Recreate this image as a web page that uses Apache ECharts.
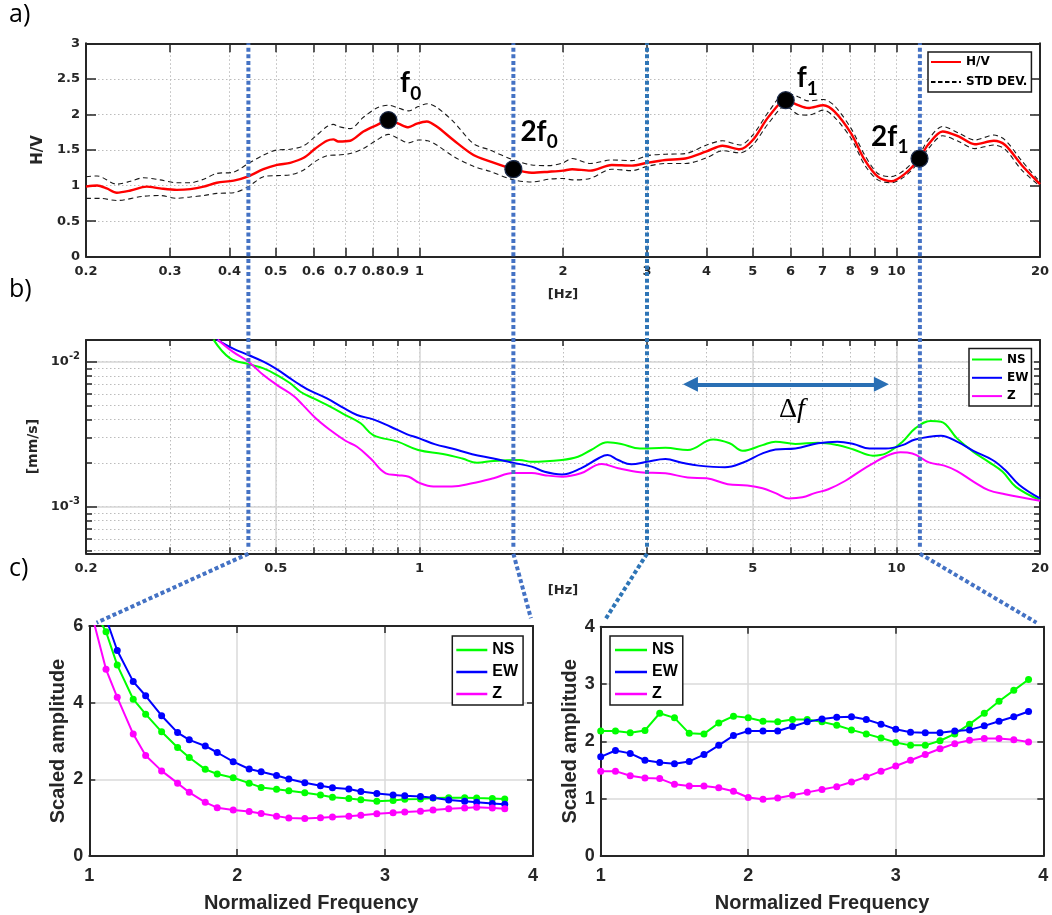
<!DOCTYPE html>
<html>
<head>
<meta charset="utf-8">
<script src="https://cdn.jsdelivr.net/npm/echarts/dist/echarts.min.js"></script>
<style>
html,body{margin:0;padding:0;background:#ffffff;}
#chart{width:1052px;height:915px;}
</style>
</head>
<body>
<div id="chart"></div>
<script>
// ---------------- DATA ----------------
// a) H/V curve and its standard deviation band (frequency in Hz)
const hvFreq = [0.2,0.211,0.221,0.232,0.248,0.268,0.286,0.31,0.331,0.353,0.376,0.408,0.438,0.471,0.503,0.536,0.572,0.605,0.64,0.66,0.676,0.716,0.763,0.814,0.861,0.904,0.948,0.988,1.036,1.087,1.178,1.298,1.405,1.574,1.72,1.87,2.0,2.09,2.28,2.53,2.79,3.0,3.28,3.61,4.0,4.32,4.7,5.0,5.4,5.86,6.22,6.53,7.03,7.42,8.04,8.58,9.14,9.75,10.4,11.18,11.64,12.5,13.5,14.6,16.0,16.9,18.3,20];
const hvVal = [0.985,1.0,0.96,0.9,0.93,0.985,0.96,0.94,0.95,0.985,1.04,1.07,1.13,1.23,1.29,1.32,1.39,1.52,1.63,1.65,1.62,1.63,1.76,1.85,1.92,1.87,1.82,1.87,1.9,1.83,1.64,1.43,1.34,1.23,1.18,1.195,1.21,1.23,1.21,1.29,1.28,1.32,1.36,1.38,1.48,1.56,1.51,1.64,1.97,2.2,2.13,2.09,2.13,2.04,1.73,1.36,1.125,1.06,1.16,1.38,1.57,1.76,1.69,1.58,1.63,1.57,1.29,1.02];
const stdUpFreq = [0.2,0.211,0.232,0.248,0.264,0.286,0.31,0.331,0.353,0.376,0.408,0.438,0.471,0.503,0.536,0.572,0.605,0.64,0.66,0.676,0.716,0.763,0.814,0.861,0.904,0.948,0.995,1.04,1.087,1.178,1.298,1.405,1.574,1.72,1.87,2.0,2.09,2.28,2.53,2.79,3.0,3.28,3.61,4.0,4.32,4.7,5.0,5.4,5.86,6.22,6.53,7.03,7.42,8.04,8.58,9.14,9.75,10.4,11.18,11.64,12.5,13.5,14.6,16.0,16.9,18.3,20];
const stdUpVal = [1.125,1.135,1.02,1.06,1.11,1.08,1.04,1.04,1.09,1.17,1.19,1.31,1.43,1.5,1.51,1.56,1.69,1.83,1.86,1.83,1.8,1.96,2.09,2.13,2.09,2.05,2.11,2.15,2.1,1.9,1.59,1.5,1.36,1.29,1.28,1.32,1.38,1.31,1.36,1.35,1.42,1.44,1.45,1.57,1.63,1.57,1.71,2.04,2.3,2.25,2.19,2.21,2.12,1.8,1.43,1.17,1.125,1.22,1.44,1.64,1.83,1.74,1.64,1.71,1.64,1.35,1.05];
const stdLoFreq = [0.2,0.214,0.232,0.264,0.286,0.31,0.331,0.353,0.376,0.408,0.438,0.471,0.503,0.536,0.572,0.605,0.64,0.676,0.716,0.763,0.814,0.861,0.904,0.948,0.995,1.04,1.087,1.178,1.298,1.405,1.574,1.72,1.87,2.0,2.09,2.28,2.53,2.79,3.0,3.28,3.61,4.0,4.32,4.7,5.0,5.4,5.86,6.22,6.53,7.03,7.42,8.04,8.58,9.14,9.75,10.4,11.18,11.64,12.5,13.5,14.6,16.0,16.9,18.3,20];
const stdLoVal = [0.82,0.82,0.79,0.85,0.86,0.82,0.84,0.86,0.89,0.9,0.985,1.125,1.14,1.15,1.22,1.34,1.42,1.43,1.45,1.52,1.64,1.72,1.66,1.6,1.64,1.63,1.57,1.41,1.27,1.2,1.08,1.05,1.09,1.1,1.08,1.1,1.23,1.21,1.27,1.31,1.31,1.39,1.49,1.46,1.57,1.88,2.12,2.0,1.99,2.06,1.96,1.66,1.29,1.08,1.04,1.125,1.34,1.51,1.7,1.62,1.52,1.57,1.51,1.22,0.99];
// marked peaks
const peakFreq = [0.861, 1.574, 5.86, 11.18];
const peakVal = [1.92, 1.23, 2.20, 1.38];
const peakMain = ['f', '2f', 'f', '2f'];
const peakSub = ['0', '0', '1', '1'];
// frequencies of the dotted guide lines
const guideFreq = [0.438, 1.574, 3.0, 11.2];

// b) spectra [mm/s]
const nsFreq = [0.37,0.401,0.438,0.471,0.503,0.536,0.563,0.6,0.65,0.7,0.753,0.8,0.9,0.994,1.12,1.23,1.32,1.43,1.62,1.72,1.99,2.15,2.29,2.48,2.65,2.9,3.28,3.65,4.13,4.47,4.76,5.24,5.58,6.14,6.85,7.52,8.13,8.93,9.51,10.3,10.95,11.8,12.4,13.4,14.5,15.6,16.7,17.8,20];
const nsVal = [0.0142,0.01054,0.00963,0.009,0.00809,0.0071,0.00621,0.00558,0.0049,0.00429,0.00376,0.00312,0.00281,0.00246,0.00231,0.00215,0.00201,0.00207,0.0021,0.00204,0.0021,0.00221,0.00246,0.00278,0.00271,0.00252,0.00255,0.00246,0.00291,0.00274,0.00243,0.00266,0.00281,0.00271,0.00276,0.00266,0.00248,0.00225,0.00233,0.00281,0.00347,0.0039,0.00386,0.00296,0.00239,0.00204,0.00174,0.00137,0.00111];
const ewFreq = [0.376,0.406,0.438,0.471,0.503,0.536,0.563,0.59,0.64,0.69,0.74,0.8,0.87,0.94,1.0,1.08,1.17,1.29,1.43,1.57,1.72,1.83,1.99,2.18,2.37,2.48,2.61,2.78,3.0,3.28,3.55,3.85,4.37,4.76,5.24,5.58,6.14,6.85,7.52,8.13,8.78,9.51,10.3,10.95,12.4,13.4,14.5,15.9,16.9,18.1,20];
const ewVal = [0.0142,0.01236,0.01112,0.01,0.00886,0.00767,0.0069,0.00631,0.00558,0.00484,0.00429,0.004,0.00356,0.00317,0.00296,0.00269,0.00252,0.0023,0.00215,0.00201,0.00189,0.00174,0.00167,0.00184,0.00215,0.00227,0.0021,0.00196,0.00204,0.00213,0.00201,0.00192,0.00187,0.00201,0.00233,0.00248,0.00252,0.00274,0.00281,0.00271,0.00252,0.00252,0.00266,0.00291,0.00309,0.00281,0.00243,0.0021,0.00179,0.00141,0.00114];
const zFreq = [0.378,0.406,0.438,0.471,0.503,0.545,0.57,0.607,0.65,0.7,0.74,0.79,0.85,0.9,0.95,1.0,1.07,1.17,1.29,1.43,1.57,1.72,1.83,1.99,2.18,2.41,2.61,2.9,3.28,3.65,4.0,4.43,4.87,5.24,5.58,5.95,6.35,6.74,7.2,7.82,8.46,8.93,9.51,10.2,10.8,11.7,12.6,13.4,14.5,15.6,16.9,20];
const zVal = [0.0142,0.01173,0.01,0.00809,0.0069,0.0058,0.00502,0.00406,0.00338,0.00285,0.00259,0.00215,0.0017,0.00165,0.00161,0.00146,0.00138,0.00138,0.00145,0.00157,0.00171,0.00171,0.00165,0.00161,0.0017,0.00197,0.00184,0.00173,0.0017,0.00159,0.00157,0.00143,0.0014,0.00134,0.00124,0.00114,0.00116,0.00124,0.00132,0.00151,0.00179,0.00199,0.00223,0.00237,0.00233,0.00202,0.00192,0.00176,0.00149,0.0013,0.00122,0.0011];
// Δf arrow (shaft ends, Hz) and its level, plus the label anchor
const deltaF = [3.7, 9.3];
const deltaFLevel = 0.00698;
const deltaLabelAt = [6.04, 0.00465];

// c) scaled amplitude vs normalized frequency
const normLow = [1.034,1.113,1.189,1.297,1.381,1.489,1.597,1.676,1.784,1.865,1.973,2.081,2.162,2.266,2.349,2.457,2.563,2.644,2.755,2.836,2.944,3.054,3.133,3.239,3.324,3.430,3.538,3.619,3.725,3.809];
const nsLow = [6.4,5.85,4.98,4.09,3.70,3.24,2.83,2.57,2.26,2.14,2.04,1.90,1.79,1.74,1.70,1.65,1.59,1.53,1.50,1.47,1.43,1.45,1.48,1.49,1.51,1.52,1.52,1.51,1.50,1.49];
const ewLow = [7.2,6.2,5.36,4.55,4.18,3.66,3.22,3.03,2.87,2.70,2.46,2.27,2.20,2.10,2.01,1.91,1.83,1.78,1.75,1.68,1.63,1.59,1.57,1.55,1.52,1.46,1.43,1.40,1.37,1.35];
const zLow = [6.05,4.87,4.14,3.18,2.62,2.22,1.90,1.66,1.40,1.26,1.20,1.16,1.11,1.04,0.99,0.98,1.00,1.02,1.04,1.06,1.10,1.13,1.15,1.17,1.20,1.23,1.25,1.27,1.25,1.23];
const normHigh = [1.0,1.1,1.2,1.3,1.4,1.5,1.6,1.7,1.8,1.9,2.0,2.1,2.2,2.3,2.4,2.5,2.6,2.7,2.8,2.9,3.0,3.1,3.2,3.3,3.4,3.5,3.6,3.7,3.8,3.9];
const nsHigh = [2.18,2.18,2.15,2.19,2.49,2.41,2.14,2.13,2.32,2.44,2.41,2.35,2.34,2.38,2.38,2.34,2.28,2.20,2.13,2.06,1.98,1.93,1.93,2.01,2.13,2.30,2.49,2.70,2.89,3.08];
const ewHigh = [1.73,1.84,1.79,1.67,1.63,1.61,1.65,1.77,1.93,2.10,2.18,2.18,2.18,2.26,2.34,2.39,2.42,2.43,2.38,2.30,2.21,2.16,2.15,2.15,2.18,2.20,2.27,2.35,2.43,2.52];
const zHigh = [1.48,1.48,1.40,1.36,1.35,1.25,1.22,1.22,1.19,1.13,1.02,0.99,1.01,1.06,1.11,1.16,1.21,1.29,1.38,1.48,1.57,1.67,1.77,1.87,1.96,2.02,2.05,2.05,2.03,1.99];

// tick values / labels
const hzTicks = [0.2,0.3,0.4,0.5,0.6,0.7,0.8,0.9,1,2,3,4,5,6,7,8,9,10,20];
const hzLabelsA = [0.2,0.3,0.4,0.5,0.6,0.7,0.8,0.9,1,2,3,4,5,6,7,8,9,10,20];
const hzLabelsB = [0.2,0.5,1,5,10,20];
const hzMajorB = [0.5,1,5,10];
const velTicks = [5e-4,6e-4,7e-4,8e-4,9e-4,1e-3,2e-3,3e-3,4e-3,5e-3,6e-3,7e-3,8e-3,9e-3,1e-2];
const velLabels = [1e-3,1e-2];

// ---------------- STYLE ----------------
const INK = '#262626';
const FA = 'DejaVu Sans';
const FC = 'Liberation Sans';
const GREEN = '#00ff00', BLUE = '#0000ff', MAGENTA = '#ff00ff';
const guideColors = ['#4472c4','#4472c4','#2e75b6','#4472c4'];
const GUIDE_DASH = [4, 2.6];
const zip = (xs, ys) => xs.slice(0, Math.min(xs.length, ys.length)).map((x, i) => [x, ys[i]]);
const fmtHz = v => String(Math.round(v * 100) / 100);
const axLine = {show: true, onZero: false, lineStyle: {color: INK, width: 2}};
const tickA = (len, vals) => ({show: true, inside: true, length: len, customValues: vals, lineStyle: {color: INK, width: 1.5}});
const dotGrid = {show: true, lineStyle: {color: '#bcbcbc', width: 1, type: [1.5, 2.5]}};
const noLabel = {show: false};
const noSplit = {show: false};
const labA = {fontFamily: FA, fontWeight: 'bold', fontSize: 13, color: INK, hideOverlap: false};
const labC = {fontFamily: FC, fontWeight: 'bold', fontSize: 18, color: INK, hideOverlap: false};
const nameA = {fontFamily: FA, fontWeight: 'bold', fontSize: 13, color: INK};
const nameC = {fontFamily: FC, fontWeight: 'bold', fontSize: 20, color: INK};
const dashIcon = 'path://M0,0H4.5V1.3H0Z M7,0H11.5V1.3H7Z M14,0H18.5V1.3H14Z M21,0H25.5V1.3H21Z M28,0H30V1.3H28Z';

const grid = [
  {left: 86, right: 12, top: 43.3, bottom: 658.3, outerBoundsMode: 'none'},   // a
  {left: 86, right: 12, top: 340, bottom: 361.7, outerBoundsMode: 'none'},    // b
  {left: 89.3, right: 519, top: 626, bottom: 59, outerBoundsMode: 'none'},    // c left
  {left: 600.7, right: 8.7, top: 626.7, bottom: 59, outerBoundsMode: 'none'}, // c right
  {left: 86, right: 12, top: 43.3, bottom: 368.3, outerBoundsMode: 'none'}    // guide overlay
];

const xAxis = [
  // 0: a bottom
  {gridIndex: 0, type: 'log', logBase: 10, min: 0.2, max: 20, position: 'bottom', axisLine: axLine,
   axisTick: tickA(9, hzTicks),
   axisLabel: Object.assign({customValues: hzLabelsA, formatter: fmtHz, margin: 8}, labA),
   splitLine: dotGrid, minorTick: {show: false},
   name: '[Hz]', nameLocation: 'middle', nameGap: 31, nameTextStyle: nameA},
  // 1: a top
  {gridIndex: 0, type: 'log', logBase: 10, min: 0.2, max: 20, position: 'top', axisLine: axLine,
   axisTick: tickA(9, hzTicks), axisLabel: noLabel, splitLine: noSplit},
  // 2: b bottom
  {gridIndex: 1, type: 'log', logBase: 10, min: 0.2, max: 20, position: 'bottom', axisLine: axLine,
   axisTick: tickA(6, hzTicks),
   axisLabel: Object.assign({customValues: hzLabelsB, formatter: fmtHz, margin: 9}, labA),
   splitLine: dotGrid,
   name: '[Hz]', nameLocation: 'middle', nameGap: 31, nameTextStyle: nameA},
  // 3: b top
  {gridIndex: 1, type: 'log', logBase: 10, min: 0.2, max: 20, position: 'top', axisLine: axLine,
   axisTick: tickA(6, hzTicks), axisLabel: noLabel, splitLine: noSplit},
  // 4: b major solid grid
  {gridIndex: 1, type: 'log', logBase: 10, min: 0.2, max: 20, position: 'bottom', axisLine: {show: false},
   axisTick: {show: false, customValues: hzMajorB}, axisLabel: noLabel,
   splitLine: {show: true, lineStyle: {color: '#d6d6d6', width: 1.5}}},
  // 5: unused placeholder (hidden)
  {gridIndex: 4, type: 'log', min: 0.2, max: 20, show: false},
  // 6: c-left bottom
  {gridIndex: 2, type: 'value', min: 1, max: 4, interval: 1, position: 'bottom', axisLine: axLine,
   axisTick: {show: true, inside: true, length: 7, lineStyle: {color: INK, width: 1.5}},
   axisLabel: Object.assign({margin: 11}, labC),
   splitLine: {show: true, lineStyle: {color: '#dadada', width: 1.5}},
   name: 'Normalized Frequency', nameLocation: 'middle', nameGap: 37, nameTextStyle: nameC},
  // 7: c-left top
  {gridIndex: 2, type: 'value', min: 1, max: 4, interval: 1, position: 'top', axisLine: axLine,
   axisTick: {show: true, inside: true, length: 7, lineStyle: {color: INK, width: 1.5}}, axisLabel: noLabel, splitLine: noSplit},
  // 8: c-right bottom
  {gridIndex: 3, type: 'value', min: 1, max: 4, interval: 1, position: 'bottom', axisLine: axLine,
   axisTick: {show: true, inside: true, length: 7, lineStyle: {color: INK, width: 1.5}},
   axisLabel: Object.assign({margin: 11}, labC),
   splitLine: {show: true, lineStyle: {color: '#dadada', width: 1.5}},
   name: 'Normalized Frequency', nameLocation: 'middle', nameGap: 37, nameTextStyle: nameC},
  // 9: c-right top
  {gridIndex: 3, type: 'value', min: 1, max: 4, interval: 1, position: 'top', axisLine: axLine,
   axisTick: {show: true, inside: true, length: 7, lineStyle: {color: INK, width: 1.5}}, axisLabel: noLabel, splitLine: noSplit},
  // 10: overlay
  {gridIndex: 4, type: 'log', logBase: 10, min: 0.2, max: 20, show: false}
];

const yAxis = [
  // 0: a left
  {gridIndex: 0, type: 'value', min: 0, max: 3, interval: 0.5, position: 'left', axisLine: axLine,
   axisTick: {show: true, inside: true, length: 10, lineStyle: {color: INK, width: 1.5}},
   axisLabel: Object.assign({margin: 6}, labA), splitLine: dotGrid,
   name: 'H/V', nameLocation: 'middle', nameGap: 34, nameTextStyle: Object.assign({}, nameA, {fontSize: 15})},
  // 1: a right
  {gridIndex: 0, type: 'value', min: 0, max: 3, interval: 0.5, position: 'right', axisLine: axLine,
   axisTick: {show: true, inside: true, length: 10, lineStyle: {color: INK, width: 1.5}}, axisLabel: noLabel, splitLine: noSplit},
  // 2: b left (all ticks, dotted grid, decade labels)
  {gridIndex: 1, type: 'log', logBase: 10, min: 4.77e-4, max: 0.01412, position: 'left', axisLine: axLine,
   axisTick: tickA(6, velTicks),
   axisLabel: {customValues: velLabels, margin: 6, hideOverlap: false,
     formatter: v => '{b|10}{s|' + Math.round(Math.log10(v)) + '}',
     rich: {b: {fontFamily: FA, fontWeight: 'bold', fontSize: 13, color: INK, lineHeight: 20},
            s: {fontFamily: FA, fontWeight: 'bold', fontSize: 10, color: INK, lineHeight: 12, verticalAlign: 'top'}}},
   splitLine: dotGrid,
   name: '[mm/s]', nameLocation: 'middle', nameGap: 28, nameTextStyle: Object.assign({}, nameA, {fontSize: 14})},
  // 3: b left majors (longer ticks, solid grid)
  {gridIndex: 1, type: 'log', logBase: 10, min: 4.77e-4, max: 0.01412, position: 'left', axisLine: {show: false},
   axisTick: tickA(11, velLabels), axisLabel: noLabel,
   splitLine: {show: true, lineStyle: {color: '#d6d6d6', width: 1.5}}},
  // 4: b right
  {gridIndex: 1, type: 'log', logBase: 10, min: 4.77e-4, max: 0.01412, position: 'right', axisLine: axLine,
   axisTick: tickA(6, velTicks), axisLabel: noLabel, splitLine: noSplit},
  // 5: c-left left
  {gridIndex: 2, type: 'value', min: 0, max: 6, interval: 2, position: 'left', axisLine: axLine,
   axisTick: {show: true, inside: true, length: 6, lineStyle: {color: INK, width: 1.5}},
   axisLabel: Object.assign({margin: 6}, labC),
   splitLine: {show: true, lineStyle: {color: '#dadada', width: 1.5}},
   name: 'Scaled amplitude', nameLocation: 'middle', nameGap: 21, nameTextStyle: nameC},
  // 6: c-left right
  {gridIndex: 2, type: 'value', min: 0, max: 6, interval: 2, position: 'right', axisLine: axLine,
   axisTick: {show: true, inside: true, length: 6, lineStyle: {color: INK, width: 1.5}}, axisLabel: noLabel, splitLine: noSplit},
  // 7: c-right left
  {gridIndex: 3, type: 'value', min: 0, max: 4, interval: 1, position: 'left', axisLine: axLine,
   axisTick: {show: true, inside: true, length: 6, lineStyle: {color: INK, width: 1.5}},
   axisLabel: Object.assign({margin: 6}, labC),
   splitLine: {show: true, lineStyle: {color: '#dadada', width: 1.5}},
   name: 'Scaled amplitude', nameLocation: 'middle', nameGap: 19, nameTextStyle: nameC},
  // 8: c-right right
  {gridIndex: 3, type: 'value', min: 0, max: 4, interval: 1, position: 'right', axisLine: axLine,
   axisTick: {show: true, inside: true, length: 6, lineStyle: {color: INK, width: 1.5}}, axisLabel: noLabel, splitLine: noSplit},
  // 9: overlay
  {gridIndex: 4, type: 'value', min: 0, max: 1, show: false}
];

const series = [];
// panel a (0..3)
series.push({name: 'H/V', type: 'line', xAxisIndex: 0, yAxisIndex: 0, data: zip(hvFreq, hvVal), symbol: 'none', smooth: 0.3,
  lineStyle: {color: '#ff0000', width: 2.4}, itemStyle: {color: '#ff0000'}, z: 4, silent: true});
series.push({name: 'STD DEV.', type: 'line', xAxisIndex: 0, yAxisIndex: 0, data: zip(stdUpFreq, stdUpVal), symbol: 'none', smooth: 0.3,
  lineStyle: {color: '#1a1a1a', width: 1.1, type: [5, 3.5]}, itemStyle: {color: '#000'}, z: 3, silent: true});
series.push({name: 'STD DEV.', type: 'line', xAxisIndex: 0, yAxisIndex: 0, data: zip(stdLoFreq, stdLoVal), symbol: 'none', smooth: 0.3,
  lineStyle: {color: '#1a1a1a', width: 1.1, type: [5, 3.5]}, itemStyle: {color: '#000'}, z: 3, silent: true});
series.push({name: 'peaks', type: 'scatter', xAxisIndex: 0, yAxisIndex: 0, data: zip(peakFreq, peakVal), symbol: 'circle', symbolSize: 17,
  itemStyle: {color: '#000', opacity: 1, borderColor: '#1d2b4a', borderWidth: 1.2}, z: 7, silent: true});
// panel b (4..7)
[['NS', nsFreq, nsVal, GREEN], ['EW', ewFreq, ewVal, BLUE], ['Z', zFreq, zVal, MAGENTA]].forEach(s => {
  series.push({name: s[0], type: 'line', xAxisIndex: 2, yAxisIndex: 2, data: zip(s[1], s[2]), symbol: 'none', smooth: 0.4,
    lineStyle: {color: s[3], width: 2}, itemStyle: {color: s[3]}, z: 3, silent: true});
});
series.push({name: 'deltaf', type: 'line', xAxisIndex: 2, yAxisIndex: 2, data: [], silent: true,
  markLine: {silent: true, animation: false, symbol: ['triangle', 'triangle'], symbolSize: 15,
    lineStyle: {color: '#2a6fb4', width: 4, type: 'solid'}, label: {show: false}, emphasis: {disabled: true},
    data: [[{coord: [deltaF[0], deltaFLevel]}, {coord: [deltaF[1], deltaFLevel]}]]}});
// panel c-left (8..10)
[['NS', nsLow, GREEN], ['EW', ewLow, BLUE], ['Z', zLow, MAGENTA]].forEach(s => {
  series.push({name: s[0], type: 'line', xAxisIndex: 6, yAxisIndex: 5, data: zip(normLow, s[1]), symbol: 'circle', symbolSize: 7,
    showSymbol: true, clip: true, lineStyle: {color: s[2], width: 2}, itemStyle: {color: s[2]}, z: 3, silent: true});
});
// panel c-right (11..13)
[['NS', nsHigh, GREEN], ['EW', ewHigh, BLUE], ['Z', zHigh, MAGENTA]].forEach(s => {
  series.push({name: s[0], type: 'line', xAxisIndex: 8, yAxisIndex: 7, data: zip(normHigh, s[1]), symbol: 'circle', symbolSize: 7,
    showSymbol: true, clip: true, lineStyle: {color: s[2], width: 2}, itemStyle: {color: s[2]}, z: 3, silent: true});
});
// guide lines (14..17)
const guideSeriesStart = series.length;
guideFreq.forEach((f, i) => {
  series.push({name: 'guide' + i, type: 'line', xAxisIndex: 10, yAxisIndex: 9, data: [[f, 0], [f, 1]], symbol: 'none',
    lineStyle: {color: guideColors[i], width: 4, type: GUIDE_DASH}, z: 5, silent: true});
});

const legTextA = {fontFamily: FA, fontWeight: 'bold', fontSize: 12, color: '#000', lineHeight: 14};
const legTextC = {fontFamily: FC, fontWeight: 'bold', fontSize: 16, color: '#000', lineHeight: 18};
const legBase = {orient: 'vertical', selectedMode: false, backgroundColor: '#fff', borderColor: '#1a1a1a', borderWidth: 1.5,
  borderRadius: 0, itemStyle: {borderWidth: 0}, symbolKeepAspect: false, z: 6};
const compNames = ['NS', 'EW', 'Z'];
const legend = [
  Object.assign({}, legBase, {left: 928, top: 52, itemWidth: 30, itemHeight: 2, itemGap: 6, padding: [3, 4, 3, 3],
    textStyle: legTextA, data: [{name: 'H/V', icon: 'rect'}, {name: 'STD DEV.', icon: dashIcon}]}),
  Object.assign({}, legBase, {left: 969, top: 348.5, itemWidth: 30, itemHeight: 2, itemGap: 4.3, padding: [4, 3, 3, 3],
    textStyle: legTextA, data: compNames.map(n => ({name: n, icon: 'rect'}))}),
  Object.assign({}, legBase, {left: 452.3, top: 636, itemWidth: 31, itemHeight: 2.5, itemGap: 4, padding: [5, 5, 2, 4],
    textStyle: legTextC, data: compNames.map(n => ({name: n, icon: 'rect'}))}),
  Object.assign({}, legBase, {left: 610, top: 636, itemWidth: 32, itemHeight: 2.5, itemGap: 4, padding: [5, 5, 2, 5],
    textStyle: legTextC, data: compNames.map(n => ({name: n, icon: 'rect'}))})
];

const option = {
  animation: false,
  backgroundColor: '#ffffff',
  grid, xAxis, yAxis, series, legend,
  tooltip: {show: false}
};

const chart = echarts.init(document.getElementById('chart'), null, {renderer: 'canvas', width: 1052, height: 915});
chart.setOption(option);

// ---------------- ANNOTATIONS (positioned from the chart's own scales) ----------------
const P = (seriesIndex, pt) => chart.convertToPixel({seriesIndex: seriesIndex}, pt);
const gfx = [];
const panelTag = (txt, x, y) => ({type: 'text', x: x, y: y, z: 20,
  style: {text: txt, fontFamily: 'Open Sans', fontSize: 25, fill: '#000', verticalAlign: 'middle', align: 'left'}});
gfx.push(panelTag('a)', 9, 15), panelTag('b)', 9, 290), panelTag('c)', 9, 569));

// diagonal continuations of the guide lines toward panel c corners
const cornerSeries = [8, 8, 11, 11];
const cornerPts = [[1, 6], [4, 6], [1, 4], [4, 4]];
guideFreq.forEach((f, i) => {
  const b = P(guideSeriesStart + i, [f, 0]);
  const c = P(cornerSeries[i], cornerPts[i]);
  const s = [b[0], b[1] + 7];
  const dx = c[0] - s[0], dy = c[1] - s[1], L = Math.hypot(dx, dy);
  const e = [c[0] - dx / L * 8, c[1] - dy / L * 8];
  gfx.push({type: 'line', z: 10, silent: true,
    shape: {x1: s[0], y1: s[1], x2: e[0], y2: e[1]},
    style: {stroke: guideColors[i], lineWidth: 4, lineDash: GUIDE_DASH}});
});

// peak labels f0, 2f0, f1, 2f1
const peakDx = [11.7, 7, 11, -48.4];
const peakDy = [-36.8, -37.6, -21.9, -21.9];
peakFreq.forEach((f, i) => {
  const p = P(3, [f, peakVal[i]]);
  gfx.push({type: 'text', x: p[0] + peakDx[i], y: p[1] + peakDy[i], z: 20, silent: true,
    style: {text: '{m|' + peakMain[i] + '}{s|' + peakSub[i] + '}', align: 'left', verticalAlign: 'middle',
      rich: {m: {fontFamily: 'Lato', fontWeight: 'bold', fontSize: 28, lineHeight: 40, fill: '#000'},
             s: {fontFamily: 'Lato', fontWeight: 'bold', fontSize: 19, lineHeight: 21, verticalAlign: 'bottom', fill: '#000'}}}});
});

// Δf label
const dl = P(4, deltaLabelAt);
gfx.push({type: 'text', x: dl[0], y: dl[1], z: 20, silent: true,
  style: {text: '{d|Δ}{i|f}', align: 'center', verticalAlign: 'middle',
    rich: {d: {fontFamily: 'Liberation Serif', fontSize: 28, fill: '#000'},
           i: {fontFamily: 'Liberation Serif', fontStyle: 'italic', fontSize: 28, fill: '#000'}}}});

chart.setOption({graphic: gfx});
</script>
</body>
</html>
